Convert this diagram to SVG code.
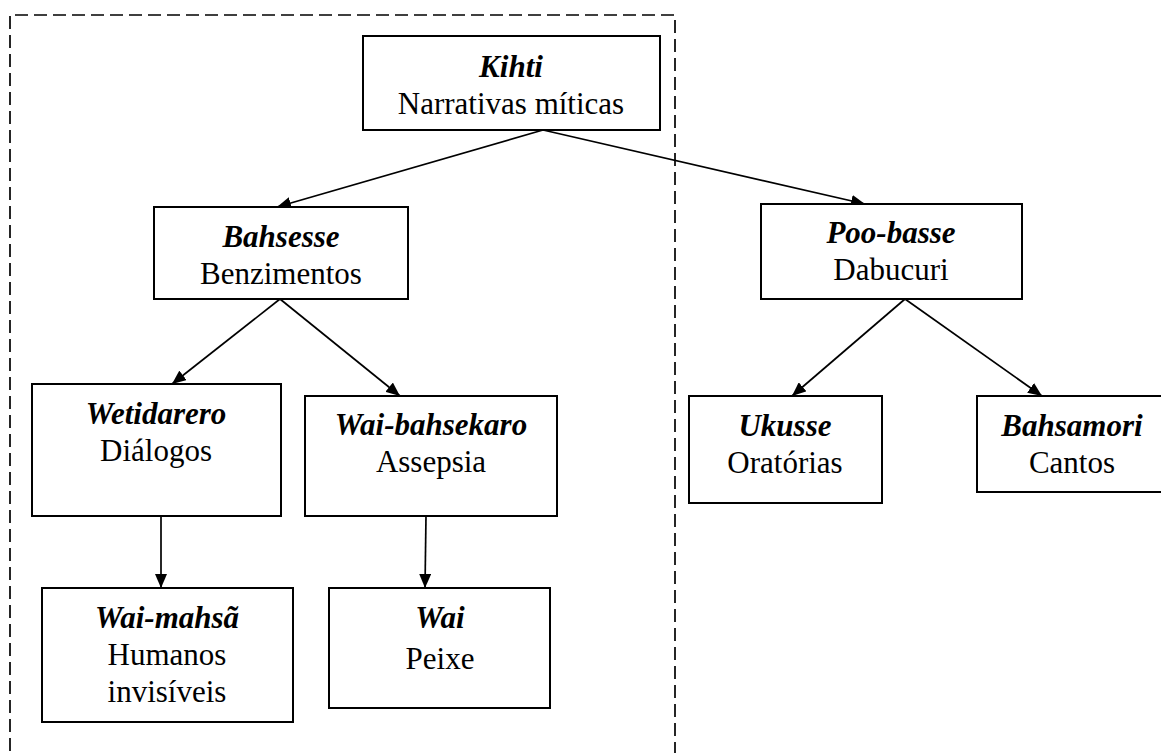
<svg xmlns="http://www.w3.org/2000/svg" width="1161" height="753" viewBox="0 0 1161 753">
  <style>
    .box { fill: #fff; stroke: #000; stroke-width: 2; }
    .t { font-family: "Liberation Serif", "Times New Roman", serif; font-size: 31px; text-anchor: middle; fill: #000; }
    .term { font-weight: bold; font-style: italic; }
    .edge { stroke: #000; stroke-width: 1.7; fill: none; marker-end: url(#arrow); }
    .frame { fill: none; stroke: #000; stroke-width: 1.7; stroke-dasharray: 13 6; }
  </style>
  <defs>
    <marker id="arrow" viewBox="0 0 14 12" refX="14" refY="6" markerWidth="14" markerHeight="12" markerUnits="userSpaceOnUse" orient="auto">
      <path d="M0,0 L14,6 L0,12 Z" fill="#000"/>
    </marker>
  </defs>
  <rect width="1161" height="753" fill="#fff"/>

  <!-- dashed grouping frame; its bottom edge runs off the page -->
  <path class="frame" d="M10,770 L10,15 L675,15 L675,770"/>

  <g id="connectors">
    <line class="edge" x1="543" y1="130" x2="277" y2="207"/>
    <line class="edge" x1="543" y1="130" x2="865" y2="204"/>
    <line class="edge" x1="280" y1="299" x2="172" y2="384"/>
    <line class="edge" x1="280" y1="299" x2="400" y2="396"/>
    <line class="edge" x1="905" y1="299" x2="792" y2="396"/>
    <line class="edge" x1="905" y1="299" x2="1042" y2="396"/>
    <line class="edge" x1="161" y1="516" x2="161" y2="588"/>
    <line class="edge" x1="426" y1="516" x2="425" y2="588"/>
  </g>

  <g id="kihti">
    <rect class="box" x="363" y="36" width="297" height="94"/>
    <text class="t term" x="511" y="77">Kihti</text>
    <text class="t" x="511" y="114">Narrativas míticas</text>
  </g>

  <g id="bahsesse">
    <rect class="box" x="154" y="207" width="254" height="92"/>
    <text class="t term" x="281" y="247">Bahsesse</text>
    <text class="t" x="281" y="284">Benzimentos</text>
  </g>

  <g id="poo-basse">
    <rect class="box" x="761" y="204" width="261" height="95"/>
    <text class="t term" x="891" y="243">Poo-basse</text>
    <text class="t" x="891" y="280">Dabucuri</text>
  </g>

  <g id="wetidarero">
    <rect class="box" x="32" y="384" width="249" height="132"/>
    <text class="t term" x="156" y="424">Wetidarero</text>
    <text class="t" x="156" y="461">Diálogos</text>
  </g>

  <g id="wai-bahsekaro">
    <rect class="box" x="305" y="396" width="252" height="120"/>
    <text class="t term" x="431" y="435">Wai-bahsekaro</text>
    <text class="t" x="431" y="472">Assepsia</text>
  </g>

  <g id="ukusse">
    <rect class="box" x="689" y="396" width="193" height="107"/>
    <text class="t term" x="785" y="436">Ukusse</text>
    <text class="t" x="785" y="473">Oratórias</text>
  </g>

  <g id="bahsamori">
    <rect class="box" x="977" y="396" width="190" height="96"/>
    <text class="t term" x="1072" y="436">Bahsamori</text>
    <text class="t" x="1072" y="473">Cantos</text>
  </g>

  <g id="wai-mahsa">
    <rect class="box" x="42" y="588" width="251" height="134"/>
    <text class="t term" x="167" y="628">Wai-mahsã</text>
    <text class="t" x="167" y="665">Humanos</text>
    <text class="t" x="167" y="702">invisíveis</text>
  </g>

  <g id="wai">
    <rect class="box" x="329" y="588" width="221" height="120"/>
    <text class="t term" x="440" y="628">Wai</text>
    <text class="t" x="440" y="669">Peixe</text>
  </g>
</svg>
